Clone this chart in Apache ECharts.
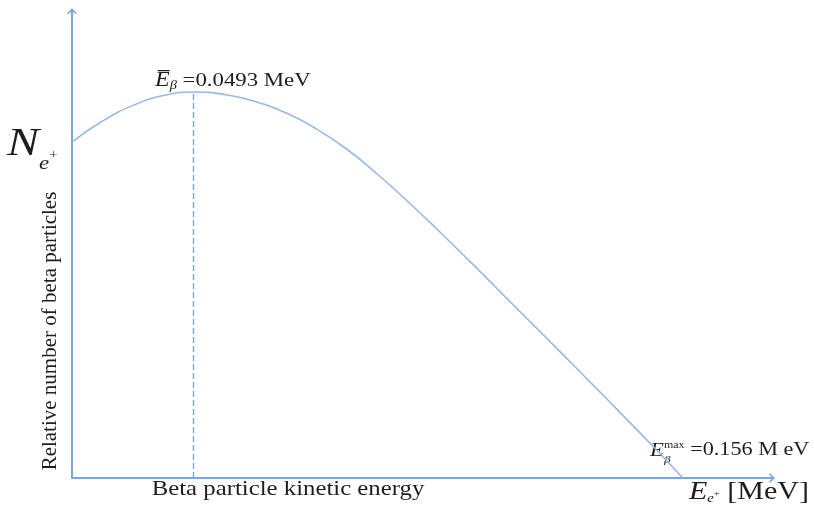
<!DOCTYPE html>
<html>
<head>
<meta charset="utf-8">
<script src="https://cdn.jsdelivr.net/npm/echarts@6/dist/echarts.min.js"></script>
<style>
  html, body { margin: 0; padding: 0; background: #fff; }
  #chart { width: 814px; height: 513px; }
</style>
</head>
<body>
<div id="chart"></div>
<script>
// Positron (beta+) energy spectrum, energies in MeV, counts relative to the peak
const E_MEAN = 0.0493;   // mean kinetic energy, marked by the dashed line
const E_MAX = 0.156;     // endpoint energy, where the spectrum reaches zero
const X_MIN = 0.02295;   // left end of the energy axis
const X_MAX = 0.1754;    // right end of the energy axis
const Y_MAX = 1.21;

const energy = [0.02295, 0.02960, 0.03626, 0.04291, 0.04956, 0.05622, 0.06287,
                0.06952, 0.07617, 0.08283, 0.08948, 0.09613, 0.10279, 0.10944,
                0.11609, 0.12275, 0.12940, 0.13605, 0.14270, 0.14936, 0.156];
const relCount = [0.8705, 0.9249, 0.9655, 0.9909, 1.0000, 0.9938, 0.9756,
                  0.9461, 0.9047, 0.8518, 0.7870, 0.7158, 0.6407, 0.5632,
                  0.4839, 0.4049, 0.3256, 0.2456, 0.1650, 0.0834, 0.0];

const AXIS_COLOR = '#7ca6da';
const CURVE_COLOR = '#97b9e3';
const TEXT_COLOR = '#1e1e1e';
const SERIF = '"Liberation Serif", "DejaVu Serif", serif';
const SX = 1.2;          // horizontal stretch of the lettering
// open chevron used as the axis arrow heads
const CHEVRON = 'path://M0,0 L10,10 L7,11.5 L0,4.5 L-7,11.5 L-10,10 Z';

const chart = echarts.init(document.getElementById('chart'));

const peakIndex = relCount.indexOf(Math.max.apply(null, relCount));

function axis(min, max) {
  return {
    type: 'value', min: min, max: max,
    axisLine: { show: true, symbol: ['none', CHEVRON], symbolSize: [10, 9],
                lineStyle: { color: AXIS_COLOR, width: 2 } },
    axisTick: { show: false }, axisLabel: { show: false }, splitLine: { show: false }
  };
}

chart.setOption({
  animation: false,
  backgroundColor: '#ffffff',
  grid: { left: 72, right: 42, top: 11, bottom: 35 },
  xAxis: axis(X_MIN, X_MAX),
  yAxis: axis(0, Y_MAX),
  series: [{
    type: 'line',
    data: energy.map((e, i) => [e, relCount[i]]),
    smooth: 0.5,
    showSymbol: false,
    lineStyle: { color: CURVE_COLOR, width: 1.6 },
    markLine: {
      silent: true,
      symbol: 'none',
      lineStyle: { color: AXIS_COLOR, type: [6, 3], width: 1.4 },
      label: { show: false },
      data: [[{ coord: [E_MEAN, 0] }, { coord: [E_MEAN, relCount[peakIndex]] }]]
    }
  }],
  graphic: [
    {
      type: 'text', x: 7, y: 116, scaleX: SX,
      style: {
        text: '{n|N}{s|e}{p|+}',
        rich: {
          n: { fontFamily: SERIF, fontStyle: 'italic', fontSize: 40, fill: TEXT_COLOR },
          s: { fontFamily: SERIF, fontStyle: 'italic', fontSize: 19, fill: TEXT_COLOR, padding: [38, 0, 0, 0] },
          p: { fontFamily: SERIF, fontSize: 12, fill: TEXT_COLOR, padding: [22, 0, 0, 0] }
        }
      }
    },
    {
      type: 'text', x: 50, y: 331, rotation: Math.PI / 2,
      style: {
        text: 'Relative number of beta particles',
        fontFamily: SERIF, fontSize: 21, fill: TEXT_COLOR,
        align: 'center', verticalAlign: 'middle'
      }
    },
    {
      type: 'text', x: 288, y: 489, scaleX: 1.18,
      style: {
        text: 'Beta particle kinetic energy',
        fontFamily: SERIF, fontSize: 21, fill: TEXT_COLOR,
        align: 'center', verticalAlign: 'middle'
      }
    },
    {
      type: 'text', x: 155, y: 70, scaleX: SX,
      style: {
        text: '{e|E\u0305}{b|\u03b2}{t| =' + E_MEAN + ' MeV}',
        rich: {
          e: { fontFamily: SERIF, fontStyle: 'italic', fontSize: 20, fill: TEXT_COLOR },
          b: { fontFamily: SERIF, fontStyle: 'italic', fontSize: 12, fill: TEXT_COLOR, padding: [10, 0, 0, 0] },
          t: { fontFamily: SERIF, fontSize: 19, fill: TEXT_COLOR }
        }
      }
    },
    {
      type: 'text', x: 650, y: 440, scaleX: SX,
      style: {
        text: '{e|E}{m|max}{t| =' + E_MAX + ' M eV}',
        rich: {
          e: { fontFamily: SERIF, fontStyle: 'italic', fontSize: 19, fill: TEXT_COLOR },
          m: { fontFamily: SERIF, fontSize: 10, fill: TEXT_COLOR, padding: [0, 0, 11, 0] },
          t: { fontFamily: SERIF, fontSize: 18.5, fill: TEXT_COLOR }
        }
      }
    },
    {
      type: 'text', x: 664, y: 455, scaleX: SX,
      style: {
        text: '\u03b2',
        fontFamily: SERIF, fontStyle: 'italic', fontSize: 11, fill: TEXT_COLOR
      }
    },
    {
      type: 'text', x: 689, y: 480, scaleX: SX,
      style: {
        text: '{e|E}{s|e}{p|+}{t| [MeV]}',
        rich: {
          e: { fontFamily: SERIF, fontStyle: 'italic', fontSize: 25, fill: TEXT_COLOR },
          s: { fontFamily: SERIF, fontStyle: 'italic', fontSize: 12, fill: TEXT_COLOR, padding: [12, 0, 0, 0] },
          p: { fontFamily: SERIF, fontSize: 9, fill: TEXT_COLOR, padding: [2, 0, 0, 0] },
          t: { fontFamily: SERIF, fontSize: 25, fill: TEXT_COLOR }
        }
      }
    }
  ]
});
</script>
</body>
</html>
